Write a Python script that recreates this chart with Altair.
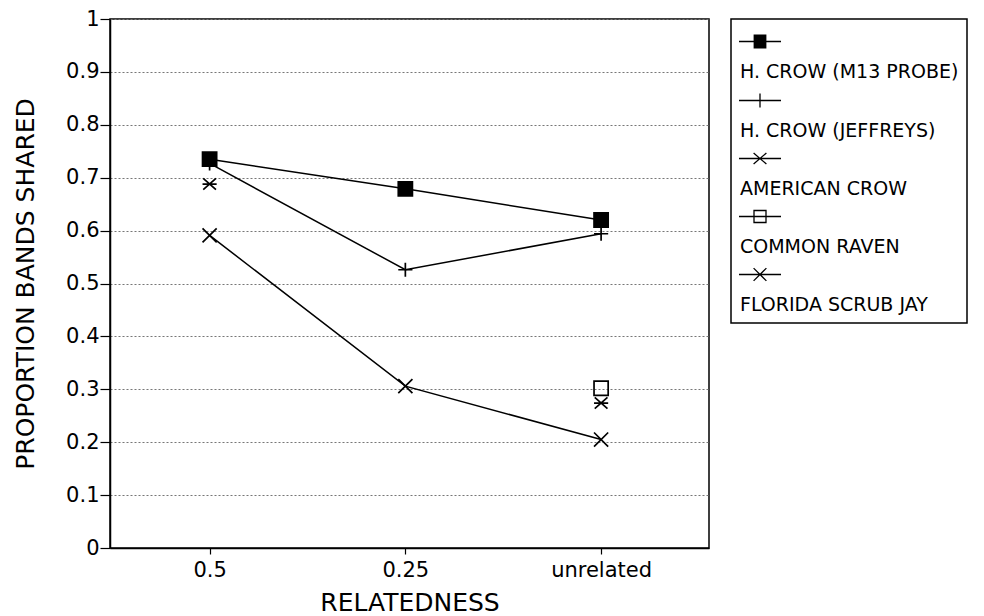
import altair as alt
import pandas as pd

relatedness = ["0.5", "0.25", "unrelated"]
series_names = [
    "H. CROW (M13 PROBE)",
    "H. CROW (JEFFREYS)",
    "AMERICAN CROW",
    "COMMON RAVEN",
    "FLORIDA SCRUB JAY",
]
m13_probe = [0.735, 0.679, 0.620]
jeffreys = [0.727, 0.526, 0.594]
american_crow = [0.688, None, 0.274]
common_raven = [None, None, 0.302]
scrub_jay = [0.591, 0.306, 0.205]
connected_series = ["H. CROW (M13 PROBE)", "H. CROW (JEFFREYS)", "FLORIDA SCRUB JAY"]
y_ticks = [0, 0.1, 0.2, 0.3, 0.4, 0.5, 0.6, 0.7, 0.8, 0.9, 1]

rows = []
for name, vals in zip(series_names, [m13_probe, jeffreys, american_crow, common_raven, scrub_jay]):
    for r, v in zip(relatedness, vals):
        if v is not None:
            rows.append({"relatedness": r, "series": name, "value": v})
df = pd.DataFrame(rows)

plot_shapes = [
    "M-1,-1H1V1H-1Z",
    "M-1,0L1,0M0,-1L0,1",
    "M-1,0L1,0M-0.9,-0.8L0.9,0.8M-0.9,0.8L0.9,-0.8",
    "M-1,-1H1V1H-1Z",
    "M-1,-1L1,1M-1,1L1,-1",
]
fills = ["black", "transparent", "transparent", "transparent", "transparent"]

# legend glyphs: a short line through each marker (solid square drawn as dense strokes)
solid_square = "".join("M-3.2,%.2fH3.2" % (-3.2 + 0.4 * k) for k in range(17))
legend_shapes = [
    "M-10.5,0L10.5,0" + solid_square,
    "M-10.5,0L10.5,0M0,-3.5L0,3.5",
    "M-10.5,0L10.5,0M-3.2,-2.8L3.2,2.8M-3.2,2.8L3.2,-2.8",
    "M-10.5,0L10.5,0M-3,-3H3V3H-3Z",
    "M-10.5,0L10.5,0M-3.2,-3.2L3.2,3.2M-3.2,3.2L3.2,-3.2",
]

FONT = "DejaVu Sans"

x_enc = alt.X(
    "relatedness:N",
    sort=relatedness,
    scale=alt.Scale(type="point", domain=relatedness, padding=0.53, align=0.48),
    axis=alt.Axis(
        title="RELATEDNESS",
        labelAngle=0,
        grid=False,
        tickSize=6,
        labelPadding=5,
        titlePadding=10,
    ),
)
y_enc = alt.Y(
    "value:Q",
    scale=alt.Scale(domain=[0, 1], nice=False, zero=True),
    axis=alt.Axis(
        title="PROPORTION BANDS SHARED",
        values=y_ticks,
        format=".1~f",
        tickSize=10,
        labelPadding=1,
        titlePadding=27,
        grid=True,
        gridDash=[2, 2],
        gridColor="#777777",
        gridWidth=1.2,
    ),
)

base = alt.Chart(df)

lines = base.transform_filter(
    alt.FieldOneOfPredicate(field="series", oneOf=connected_series)
).mark_line(color="black", strokeWidth=1.5).encode(
    x=x_enc, y=y_enc, detail="series:N"
)

points = base.mark_point(
    filled=False, stroke="black", strokeWidth=1.7, size=200, opacity=1
).encode(
    x=x_enc,
    y=y_enc,
    shape=alt.Shape("series:N", scale=alt.Scale(domain=series_names, range=plot_shapes), legend=None),
    fill=alt.Fill("series:N", scale=alt.Scale(domain=series_names, range=fills), legend=None),
)

legend_layer = base.transform_filter("false").mark_point(
    filled=False, stroke="black", strokeWidth=1.3, size=16, opacity=1
).encode(
    x=x_enc,
    y=y_enc,
    shape=alt.Shape(
        "series:N",
        scale=alt.Scale(domain=series_names, range=legend_shapes),
        legend=alt.Legend(
            title=" ",
            titleFontSize=5,
            titlePadding=0,
            labelExpr="['', datum.label]",
            labelOffset={"expr": "-29.5"},
            symbolOffset=11.5,
            symbolStrokeColor="black",
            symbolStrokeWidth=1.3,
            symbolFillColor="transparent",
        ),
    ),
)

chart = alt.layer(lines, points, legend_layer).resolve_scale(
    shape="independent", fill="independent"
).properties(
    width=599,
    height=529,
    padding={"left": 5, "top": 0, "right": 0, "bottom": 0},
    background="white",
).configure_view(
    stroke="black", strokeWidth=1.5
).configure_axis(
    labelFont=FONT,
    titleFont=FONT,
    labelFontSize=21,
    titleFontSize=25,
    titleFontWeight="normal",
    labelColor="black",
    titleColor="black",
    domainColor="black",
    domainWidth=1.5,
    tickColor="black",
    tickWidth=1.2,
).configure_legend(
    orient="none",
    legendX=621,
    legendY=0,
    strokeColor="black",
    strokeWidth=1.5,
    padding=8,
    labelFont=FONT,
    labelFontSize=19,
    labelColor="black",
    labelBaseline="top",
    labelLimit=400,
    symbolSize=16,
    rowPadding=8,
)

chart.save("out.html", embed_options={"renderer": "svg", "actions": False})
